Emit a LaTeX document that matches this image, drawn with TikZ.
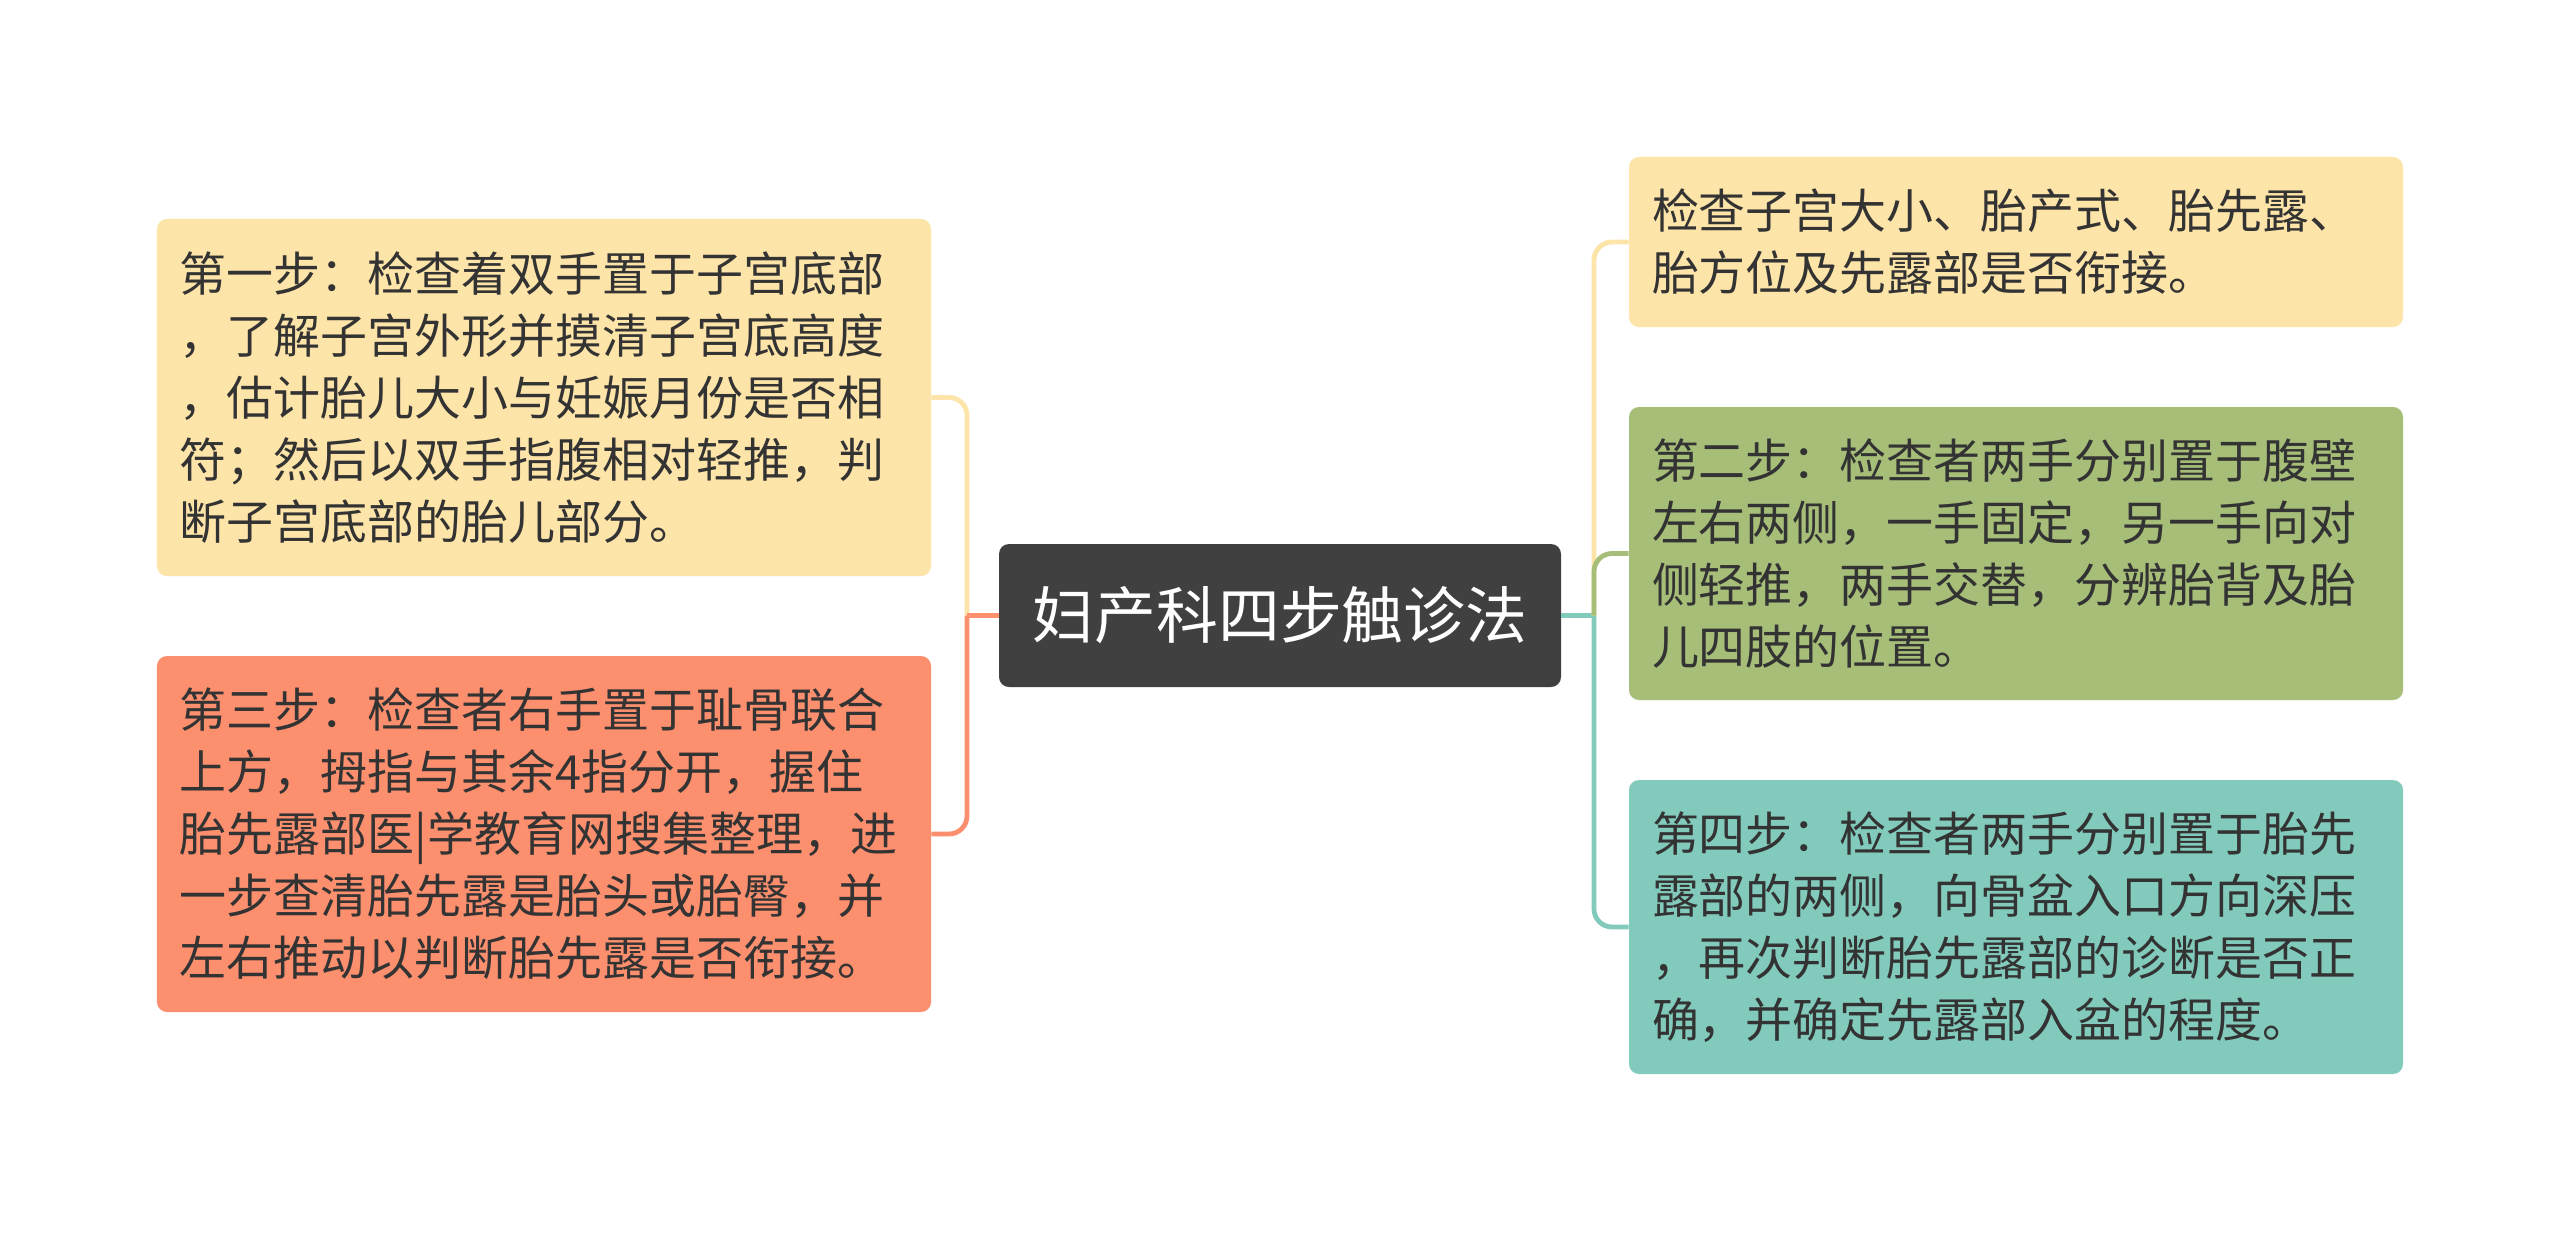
\documentclass[tikz,border=0pt]{standalone}
\usepackage{fontspec}
\setmainfont{Noto Sans CJK SC}
\usepackage{xcolor}
\usetikzlibrary{positioning}

\definecolor{rootgray}{HTML}{404040}
\definecolor{txtgray}{HTML}{333333}
\definecolor{sunyel}{HTML}{FDE4A8}
\definecolor{coral}{HTML}{FB8F6E}
\definecolor{sage}{HTML}{A6BE78}
\definecolor{mint}{HTML}{82CBBC}

\begin{document}
\begin{tikzpicture}[x=0.25mm, y=-0.25mm,
  box/.style={rectangle, rounded corners=2.5mm, text=txtgray,
              font=\fontsize{33.4pt}{44.1pt}\selectfont,
              text width=182mm, inner xsep=5.75mm, inner ysep=0pt,
              align=left},
  rootbox/.style={rectangle, rounded corners=2.5mm, fill=rootgray,
                  text=white, font=\fontsize{44pt}{50pt}\selectfont,
                  minimum width=140.5mm, minimum height=35.75mm,
                  inner sep=0pt, align=center},
  link/.style={line width=1.2mm, rounded corners=4.5mm}
]
\useasboundingbox[fill=white] (0,0) rectangle (2560,1233);

% root
\node[rootbox] (root) at (1280,615.5) {妇产科四步触诊法};

% left side
\node[box, fill=sunyel, minimum height=89.25mm] (s1) at (544,397.5)
  {第一步：检查着双手置于子宫底部\\，了解子宫外形并摸清子宫底高度\\，估计胎儿大小与妊娠月份是否相\\符；然后以双手指腹相对轻推，判\\断子宫底部的胎儿部分。};
\node[box, fill=coral, minimum height=89mm] (s3) at (544,834)
  {第三步：检查者右手置于耻骨联合\\上方，拇指与其余4指分开，握住\\胎先露部医|学教育网搜集整理，进\\一步查清胎先露是胎头或胎臀，并\\左右推动以判断胎先露是否衔接。};

% right side
\node[box, fill=sunyel, minimum height=42.5mm] (top) at (2016,242)
  {检查子宫大小、胎产式、胎先露、\\胎方位及先露部是否衔接。};
\node[box, fill=sage, minimum height=73.25mm] (s2) at (2016,553.5)
  {第二步：检查者两手分别置于腹壁\\左右两侧，一手固定，另一手向对\\侧轻推，两手交替，分辨胎背及胎\\儿四肢的位置。};
\node[box, fill=mint, minimum height=73.5mm] (s4) at (2016,927)
  {第四步：检查者两手分别置于胎先\\露部的两侧，向骨盆入口方向深压\\，再次判断胎先露部的诊断是否正\\确，并确定先露部入盆的程度。};

% connectors
\coordinate (jl) at (967,615.5);
\coordinate (jr) at (1594,615.5);

\draw[link, draw=sunyel] (jl) |- (s1.east);
\draw[link, draw=coral] (root.west) -- (jl);
\draw[link, draw=coral] (jl) |- (s3.east);

\draw[link, draw=mint] (root.east) -- (jr);
\draw[link, draw=mint] (jr) |- (s4.west);
\draw[link, draw=sunyel] (jr) |- (top.west);
\draw[link, draw=sage] (jr) |- (s2.west);
\end{tikzpicture}
\end{document}
